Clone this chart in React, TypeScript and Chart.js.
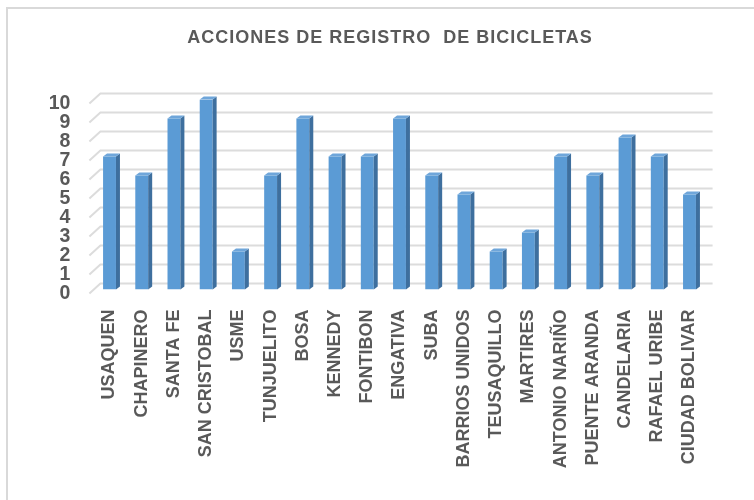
import React, { useEffect, useRef } from "react";
import { Chart, registerables } from "chart.js";

Chart.register(...registerables);

const titleText = "ACCIONES DE REGISTRO  DE BICICLETAS";
const categories = [
  "USAQUEN",
  "CHAPINERO",
  "SANTA FE",
  "SAN CRISTOBAL",
  "USME",
  "TUNJUELITO",
  "BOSA",
  "KENNEDY",
  "FONTIBON",
  "ENGATIVA",
  "SUBA",
  "BARRIOS UNIDOS",
  "TEUSAQUILLO",
  "MARTIRES",
  "ANTONIO NARIÑO",
  "PUENTE ARANDA",
  "CANDELARIA",
  "RAFAEL URIBE",
  "CIUDAD BOLIVAR",
];
const values = [7, 6, 9, 10, 2, 6, 9, 7, 7, 9, 6, 5, 2, 3, 7, 6, 8, 7, 5];
const yMin = 0;
const yMax = 10;
const yStep = 1;

const FONT = "'Liberation Sans', Arial, sans-serif";
const TEXT = "#595959";

const backGrid = {
  id: "backGrid",
  beforeDatasetsDraw(chart: any) {
    const { ctx, chartArea } = chart;
    const y = chart.scales.y;
    ctx.save();
    ctx.strokeStyle = "#dcdcdc";
    ctx.lineWidth = 2;
    for (let v = yMin; v <= yMax; v += yStep) {
      const p = y.getPixelForValue(v);
      const fx = chartArea.left - 4;
      const fy = p + 4;
      const bx = chartArea.left + 7;
      const by = p - 6;
      ctx.beginPath();
      ctx.moveTo(fx, fy);
      ctx.lineTo(bx, by);
      ctx.lineTo(chartArea.right + 7, by);
      ctx.stroke();
    }
    ctx.restore();
  },
};

const bar3d = {
  id: "bar3d",
  afterDatasetsDraw(chart: any) {
    const { ctx } = chart;
    const meta = chart.getDatasetMeta(0);
    const dx = 4;
    const dy = 3;
    ctx.save();
    meta.data.forEach((el: any) => {
      const { x, y, base, width } = el.getProps(["x", "y", "base", "width"], true);
      const l = x - width / 2;
      const r = x + width / 2;
      ctx.fillStyle = "#3E6F9E";
      ctx.beginPath();
      ctx.moveTo(r, y);
      ctx.lineTo(r + dx, y - dy);
      ctx.lineTo(r + dx, base - dy);
      ctx.lineTo(r, base);
      ctx.closePath();
      ctx.fill();
      ctx.fillStyle = "#6FA6DA";
      ctx.beginPath();
      ctx.moveTo(l, y);
      ctx.lineTo(l + dx, y - dy);
      ctx.lineTo(r + dx, y - dy);
      ctx.lineTo(r, y);
      ctx.closePath();
      ctx.fill();
    });
    ctx.restore();
  },
};

export default function App() {
  const ref = useRef<HTMLCanvasElement | null>(null);

  useEffect(() => {
    if (!ref.current) return;
    const chart = new Chart(ref.current, {
      type: "bar",
      data: {
        labels: categories,
        datasets: [
          {
            data: values,
            backgroundColor: "#5B9BD5",
            borderWidth: 0,
            categoryPercentage: 1,
            barPercentage: 0.4,
          },
        ],
      },
      options: {
        responsive: false,
        animation: false,
        layout: { padding: { left: 0, right: 48.4, top: 99.5, bottom: 0 } },
        plugins: {
          legend: { display: false },
          tooltip: { enabled: false },
          title: { display: false },
        },
        scales: {
          x: {
            grid: { display: false, drawTicks: false },
            border: { display: false },
            ticks: {
              autoSkip: false,
              minRotation: 90,
              maxRotation: 90,
              padding: 20,
              color: TEXT,
              font: { family: FONT, size: 18, weight: "bold" },
            },
            afterFit: (s: any) => {
              s.height = 210.5;
            },
          },
          y: {
            min: yMin,
            max: yMax,
            grid: { display: false, drawTicks: false },
            border: { display: false },
            ticks: {
              stepSize: yStep,
              autoSkip: false,
              padding: 23,
              labelOffset: 4,
              color: TEXT,
              font: { family: FONT, size: 19.5, weight: "bold" },
            },
            afterFit: (s: any) => {
              s.width = 93.4;
            },
          },
        },
      },
      plugins: [backGrid, bar3d],
    });
    return () => chart.destroy();
  }, []);

  return (
    <div
      style={{
        position: "fixed",
        left: 0,
        top: 0,
        width: 754,
        height: 500,
        overflow: "hidden",
        background: "#ffffff",
      }}
    >
      <div
        style={{
          position: "absolute",
          left: 6,
          top: 7,
          width: 900,
          height: 700,
          border: "2px solid #d9d9d9",
        }}
      />
      <canvas
        ref={ref}
        width={754}
        height={500}
        style={{ position: "absolute", left: 0, top: 0, width: 754, height: 500 }}
      />
      <div
        style={{
          position: "absolute",
          left: 0,
          top: 25,
          width: 780,
          textAlign: "center",
          fontFamily: FONT,
          fontWeight: 700,
          fontSize: 18,
          letterSpacing: "1px",
          lineHeight: "24px",
          color: TEXT,
          whiteSpace: "pre",
        }}
      >
        {titleText}
      </div>
    </div>
  );
}
